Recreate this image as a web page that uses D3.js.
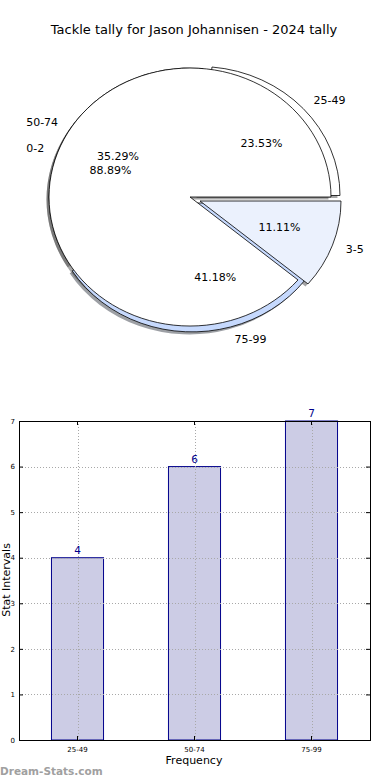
<!DOCTYPE html>
<html>
<head>
<meta charset="utf-8">
<script src="https://cdn.jsdelivr.net/npm/d3@7"></script>
<style>
  body { margin: 0; background: #fff; }
  svg { display: block; font-family: "DejaVu Sans", sans-serif; }
</style>
</head>
<body>
<svg id="chart" width="390" height="780"></svg>
<script>
// pie data - two sets drawn over each other
var pieLabelsA = ["25-49", "50-74", "75-99"];
var pieValuesA = [4, 6, 7];
var pieLabelsB = ["0-2", "3-5"];
var pieValuesB = [8, 1];

// bar data
var barCategories = ["25-49", "50-74", "75-99"];
var barValues = [4, 6, 7];
var yTicks = [0, 1, 2, 3, 4, 5, 6, 7];

var titleText = "Tackle tally for Jason Johannisen - 2024 tally";

var svg = d3.select("#chart");

///////////////////////// pie ///////////////////////////
var cx = 190, cy = 197, rx = 141, ry = 129;

// pixel offsets of exploded wedges (style only)
var explodeA = [[9, -1.5], [0, 0], [2, 6]];
var explodeB = [[0, 0], [10, 4]];
var colorsA = ["#ffffff", "#ffffff", "#c6d9fd"];
var colorsB = ["#ffffff", "#ebf1fd"];

svg.append("text")
    .attr("x", 194)
    .attr("y", 34)
    .attr("text-anchor", "middle")
    .style("font-size", "13px")
    .text(titleText);

// matplotlib style: start at 3 o'clock, go counter-clockwise
var pie = d3.pie().sort(null)
    .startAngle(Math.PI / 2)
    .endAngle(Math.PI / 2 - 2 * Math.PI);

var arc = d3.arc().innerRadius(0).outerRadius(1);

// shadows sit under every wedge, labels over everything
var shadowLayer = svg.append("g");
var wedgeLayer = svg.append("g");
var textLayer = svg.append("g");

function drawPie(labels, values, colors, explode) {
    var total = d3.sum(values);
    var arcs = pie(values);

    arcs.forEach(function(d, i) {
        var ox = cx + explode[i][0], oy = cy + explode[i][1];
        var c = d3.rgb(colors[i]);

        shadowLayer.append("path")
            .attr("transform", "translate(" + (ox - 2.5) + "," + (oy + 2.5) + ") scale(" + rx + "," + ry + ")")
            .attr("d", arc(d))
            .style("fill", d3.rgb(c.r * 0.3, c.g * 0.3, c.b * 0.3))
            .style("opacity", 0.5);

        wedgeLayer.append("path")
            .attr("transform", "translate(" + ox + "," + oy + ") scale(" + rx + "," + ry + ")")
            .attr("d", arc(d))
            .style("fill", colors[i])
            .style("stroke", "#000")
            .style("stroke-width", 0.8)
            .attr("vector-effect", "non-scaling-stroke");

        var mid = (d.startAngle + d.endAngle) / 2;
        var lx = Math.sin(mid), ly = -Math.cos(mid);

        textLayer.append("text")
            .attr("x", ox + lx * 1.1 * rx)
            .attr("y", oy + ly * 1.1 * ry)
            .attr("dy", "0.35em")
            .attr("text-anchor", lx > 0 ? "start" : "end")
            .style("font-size", "11px")
            .text(labels[i]);

        textLayer.append("text")
            .attr("x", ox + lx * 0.6 * rx)
            .attr("y", oy + ly * 0.6 * ry)
            .attr("dy", "0.35em")
            .attr("text-anchor", "middle")
            .style("font-size", "11px")
            .text((values[i] / total * 100).toFixed(2) + "%");
    });
}

drawPie(pieLabelsA, pieValuesA, colorsA, explodeA);
drawPie(pieLabelsB, pieValuesB, colorsB, explodeB);

///////////////////////// bars ///////////////////////////
var plotLeft = 19, plotRight = 370, plotTop = 421, plotBottom = 740;

var x = d3.scaleBand()
    .domain(barCategories)
    .range([plotLeft, plotRight])
    .paddingInner(0.555)
    .paddingOuter(0.2775);

var y = d3.scaleLinear().domain([0, 7]).range([plotBottom, plotTop]);

// draw bars
svg.selectAll(".bar")
    .data(barValues)
    .enter()
    .append("rect")
    .attr("class", "bar")
    .attr("x", function(d, i) { return x(barCategories[i]); })
    .attr("y", function(d) { return y(d); })
    .attr("width", x.bandwidth())
    .attr("height", function(d) { return y(0) - y(d); })
    .style("fill", "#ccccE5")
    .style("stroke", "#00008b")
    .style("stroke-width", 1);

// dotted grid on top of bars
var grid = svg.append("g").style("stroke", "#a8a8a8").style("stroke-dasharray", "1,2").style("stroke-width", 1);

yTicks.forEach(function(t) {
    grid.append("line")
        .attr("x1", plotLeft).attr("x2", plotRight)
        .attr("y1", Math.round(y(t)) + 0.5).attr("y2", Math.round(y(t)) + 0.5);
});
barCategories.forEach(function(c) {
    var cxb = Math.round(x(c) + x.bandwidth() / 2);
    grid.append("line")
        .attr("x1", cxb + 0.5).attr("x2", cxb + 0.5)
        .attr("y1", plotTop).attr("y2", plotBottom);
});

// value labels
svg.selectAll(".valueLabel")
    .data(barValues)
    .enter()
    .append("text")
    .attr("class", "valueLabel")
    .attr("x", function(d, i) { return x(barCategories[i]) + x.bandwidth() / 2; })
    .attr("y", function(d) { return y(d) - 4; })
    .attr("text-anchor", "middle")
    .style("font-size", "10.5px")
    .style("fill", "#00008b")
    .text(function(d) { return d; });

// frame
svg.append("rect")
    .attr("x", plotLeft + 0.5).attr("y", plotTop + 0.5)
    .attr("width", plotRight - plotLeft).attr("height", plotBottom - plotTop)
    .style("fill", "none").style("stroke", "#000").style("stroke-width", 1);

// axes with inward ticks
var yAxis = d3.axisLeft(y).tickValues(yTicks).tickFormat(d3.format("d")).tickSize(-4).tickPadding(4);
svg.append("g").attr("transform", "translate(" + plotLeft + ",0)").call(yAxis)
    .call(function(g) { g.select(".domain").remove(); })
    .selectAll("text").style("font-size", "7px").style("font-family", "DejaVu Sans");

var yAxisR = d3.axisRight(y).tickValues(yTicks).tickSize(-4).tickFormat("");
svg.append("g").attr("transform", "translate(" + plotRight + ",0)").call(yAxisR)
    .call(function(g) { g.select(".domain").remove(); });

var xAxis = d3.axisBottom(x).tickSize(-4).tickPadding(7);
svg.append("g").attr("transform", "translate(0," + plotBottom + ")").call(xAxis)
    .call(function(g) { g.select(".domain").remove(); })
    .selectAll("text").style("font-size", "7px").style("font-family", "DejaVu Sans");

var xAxisT = d3.axisTop(x).tickSize(-4).tickFormat("");
svg.append("g").attr("transform", "translate(0," + plotTop + ")").call(xAxisT)
    .call(function(g) { g.select(".domain").remove(); });

svg.append("text")
    .attr("x", 194).attr("y", 764)
    .attr("text-anchor", "middle")
    .style("font-size", "11px")
    .text("Frequency");

svg.append("text")
    .attr("transform", "translate(9.5,580) rotate(-90)")
    .attr("text-anchor", "middle")
    .style("font-size", "11px")
    .text("Stat Intervals");

// watermark
svg.append("text")
    .attr("x", 0).attr("y", 775)
    .style("font-size", "10.5px")
    .style("font-weight", "bold")
    .style("fill", "#a0a0a0")
    .text("Dream-Stats.com");
</script>
</body>
</html>
